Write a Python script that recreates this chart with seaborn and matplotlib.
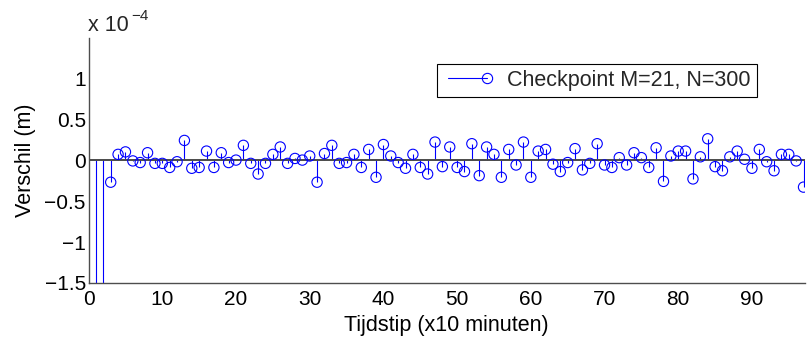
import matplotlib
matplotlib.use("Agg")
import matplotlib.pyplot as plt
import numpy as np
import pandas as pd
import seaborn as sns
from matplotlib.lines import Line2D
from matplotlib.legend_handler import HandlerBase

# ---- data (values in units of 1e-4 m) ----
tijdstip = list(range(1, 98))
verschil = [
    -4.00, -3.00, -0.27, 0.07, 0.10, -0.01, -0.03, 0.09, -0.04, -0.04,
    -0.09, -0.02, 0.24, -0.10, -0.09, 0.11, -0.09, 0.09, -0.03, 0.00,
    0.18, -0.04, -0.17, -0.04, 0.07, 0.16, -0.04, 0.02, 0.00, 0.05,
    -0.27, 0.08, 0.18, -0.04, -0.03, 0.07, -0.09, 0.13, -0.21, 0.19,
    0.05, -0.03, -0.10, 0.07, -0.09, -0.17, 0.22, -0.08, 0.16, -0.09,
    -0.14, 0.20, -0.19, 0.16, 0.07, -0.21, 0.13, -0.06, 0.22, -0.21,
    0.11, 0.13, -0.05, -0.14, -0.03, 0.14, -0.12, -0.04, 0.20, -0.06,
    -0.09, 0.03, -0.06, 0.09, 0.03, -0.09, 0.15, -0.26, 0.05, 0.11,
    0.11, -0.23, 0.04, 0.26, -0.08, -0.13, 0.04, 0.11, 0.01, -0.10,
    0.13, -0.02, -0.13, 0.07, 0.07, -0.01, -0.33,
]
x_ticks = [0, 10, 20, 30, 40, 50, 60, 70, 80, 90]
y_ticks = [-1.5, -1, -0.5, 0, 0.5, 1]
y_ticklabels = ["\u22121.5", "\u22121", "\u22120.5", "0", "0.5", "1"]
series_label = "Checkpoint M=21, N=300"
x_label = "Tijdstip (x10 minuten)"
y_label = "Verschil (m)"

df = pd.DataFrame({"t": tijdstip, "v": verschil})

sns.set_theme(style="white")
plt.rcParams["font.family"] = ["Liberation Sans", "DejaVu Sans"]

W, H = 807, 343
fig = plt.figure(figsize=(W / 100, H / 100), dpi=100)
fig.patch.set_facecolor("white")
x0, x1, ytop, ybot = 88.6, 805.0, 38.0, 283.0
ax = fig.add_axes([x0 / W, 1 - ybot / H, (x1 - x0) / W, (ybot - ytop) / H])
ax.set_facecolor("white")

blue = "#0000ff"
ms = 7.4
# stems
ax.vlines(df["t"], 0, df["v"], color=blue, lw=0.8, zorder=2)
# baseline
ax.axhline(0, color="#4a4a4a", lw=1.4, zorder=2.5)
# markers
sns.scatterplot(data=df, x="t", y="v", ax=ax, marker="o", s=ms ** 2,
                facecolors="none", edgecolor=blue, color=blue,
                linewidth=0.8, legend=False, zorder=4, clip_on=True)

ax.set_xlim(0, 97.2)
ax.set_ylim(-1.5, 1.49)
ax.set_xticks(x_ticks)
ax.set_yticks(y_ticks)
ax.set_yticklabels(y_ticklabels)

for s in ("top", "right"):
    ax.spines[s].set_visible(False)
for s in ("left", "bottom"):
    ax.spines[s].set_color("#4d4d4d")
    ax.spines[s].set_linewidth(1.0)

ax.tick_params(axis="both", direction="in", length=5, width=0.8,
               color="#4d4d4d", labelsize=15, labelcolor="black")
ax.tick_params(axis="x", pad=5)
ax.tick_params(axis="y", pad=2)

ax.set_xlabel(x_label, fontsize=15.5, color="black")
ax.set_ylabel(y_label, fontsize=15.5, color="black")
ax.xaxis.set_label_coords(0.5, (ybot - 315) / (ybot - ytop))
ax.yaxis.set_label_coords((36 - x0) / (x1 - x0), 0.5)

# multiplier text
fig.text(88 / W, 1 - 31 / H, "x 10", fontsize=15.5, va="baseline", ha="left")
fig.text(131 / W, 1 - 20 / H, "\u22124", fontsize=11, va="baseline", ha="left")


class StemLegendHandler(HandlerBase):
    def create_artists(self, legend, orig_handle, xdescent, ydescent,
                       width, height, fontsize, trans):
        y = height / 2 - ydescent
        r = ms / 2
        start = -xdescent + 3.6
        end = width - xdescent
        line = Line2D([start, end - r], [y, y], color=blue, lw=0.8)
        mk = Line2D([end - r], [y], ls="none", marker="o", ms=ms,
                    mfc="none", mec=blue, mew=0.8)
        line.set_transform(trans)
        mk.set_transform(trans)
        return [line, mk]


proxy = Line2D([], [], color=blue)
leg = ax.legend([proxy], [series_label], handler_map={proxy: StemLegendHandler()},
                loc="upper left", bbox_to_anchor=(437 / W, 1 - 64 / H),
                bbox_transform=fig.transFigure, borderaxespad=0,
                fontsize=15.5, handlelength=2.28, handletextpad=0.7,
                borderpad=0.28, fancybox=False, framealpha=1, frameon=True)
leg.get_frame().set_edgecolor("black")
leg.get_frame().set_linewidth(0.8)

fig.savefig("out.png", dpi=100, facecolor="white")
